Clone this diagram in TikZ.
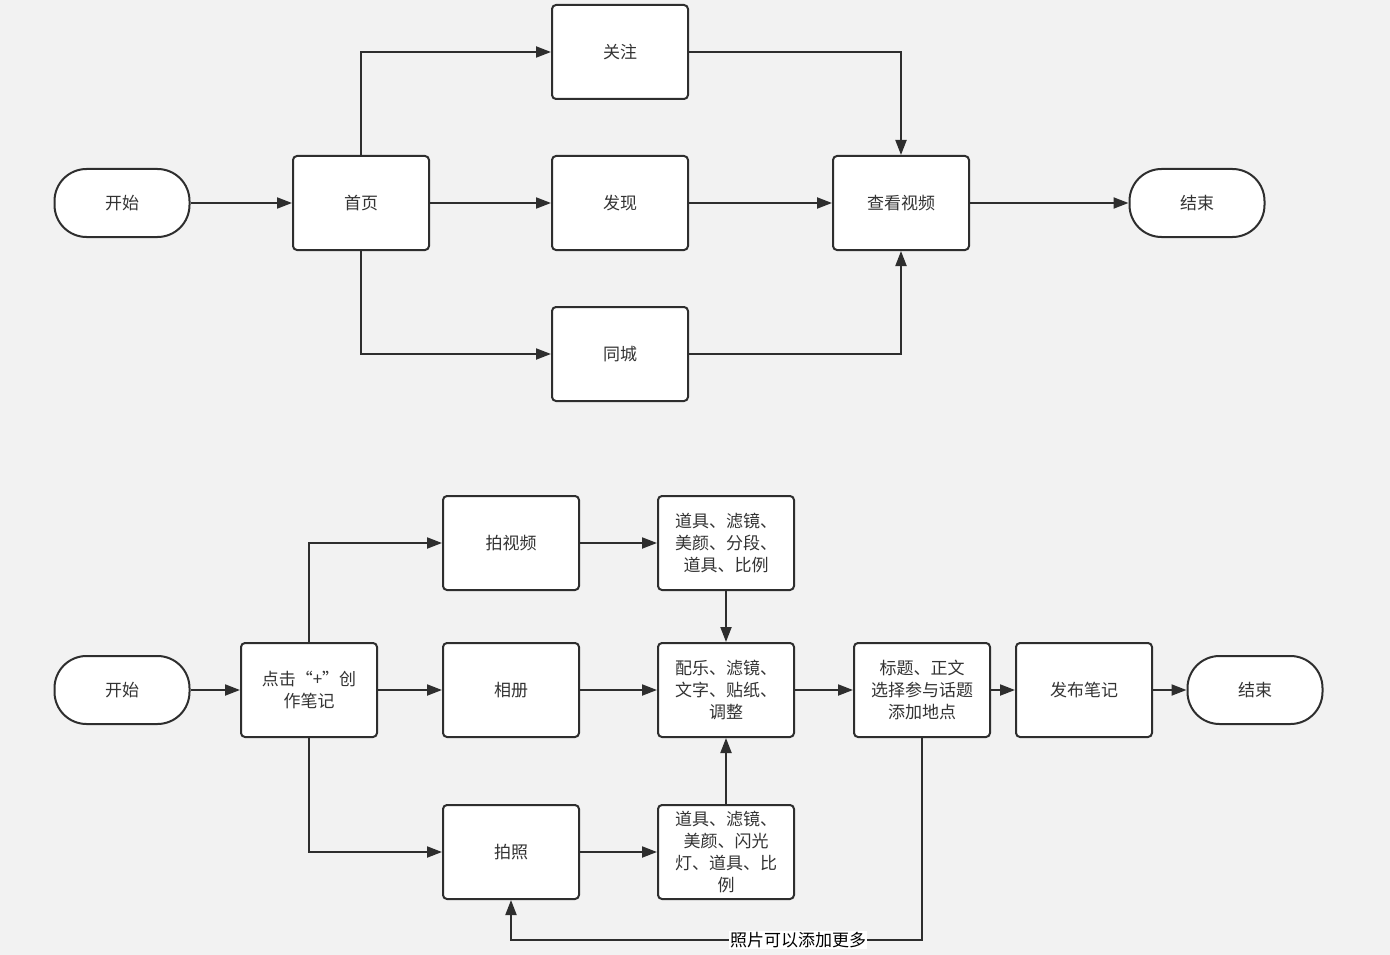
\documentclass[tikz,border=0pt]{standalone}
\usepackage{fontspec}
\newfontfamily\cjk{Noto Sans CJK SC}
\usetikzlibrary{arrows.meta}
\definecolor{bgcol}{HTML}{F2F2F2}
\definecolor{linecol}{HTML}{2E2E2E}
\definecolor{txtcol}{HTML}{333333}

\begin{document}
\begin{tikzpicture}[
    x=1pt, y=-1pt,
    proc/.style={draw=linecol, fill=white, line width=2pt, rounded corners=4pt, minimum width=136pt, minimum height=94pt, align=center, text=txtcol, font=\cjk\fontsize{17}{22}\selectfont, inner sep=0pt},
    term/.style={draw=linecol, fill=white, line width=2pt, rounded corners=32pt, minimum width=135pt, minimum height=68pt, text=txtcol, font=\cjk\fontsize{17}{22}\selectfont, inner sep=0pt},
    link/.style={draw=linecol, line width=2pt, -{Triangle[length=15pt,width=11pt]}}
]
\fill[bgcol] (0,0) rectangle (1390,955);
\useasboundingbox (0,0) rectangle (1390,955);

% top flow
\node (start1) at (122,203) [term] {开始};
\node (home) at (361,203) [proc] {首页};
\node (follow) at (620,52) [proc] {关注};
\node (discover) at (620,203) [proc] {发现};
\node (local) at (620,354) [proc] {同城};
\node (watch) at (901,203) [proc] {查看视频};
\node (end1) at (1197,203) [term] {结束};

\draw[link] (start1) -- (home);
\draw[link] (home) -- (discover);
\draw[link] (discover) -- (watch);
\draw[link] (watch) -- (end1);
\draw[link] (home.north) |- (follow.west);
\draw[link] (home.south) |- (local.west);
\draw[link] (follow.east) -| (watch.north);
\draw[link] (local.east) -| (watch.south);

% bottom flow
\node (start2) at (122,690) [term] {开始};
\node (create) at (309,690) [proc] {点击“+”创\\作笔记};
\node (shoot) at (511,543) [proc] {拍视频};
\node (album) at (511,690) [proc] {相册};
\node (photo) at (511,852) [proc] {拍照};
\node (vidfx) at (726,543) [proc] {道具、滤镜、\\美颜、分段、\\道具、比例};
\node (edit) at (726,690) [proc] {配乐、滤镜、\\文字、贴纸、\\调整};
\node (picfx) at (726,852) [proc] {道具、滤镜、\\美颜、闪光\\灯、道具、比\\例};
\node (title) at (922,690) [proc] {标题、正文\\选择参与话题\\添加地点};
\node (post) at (1084,690) [proc] {发布笔记};
\node (end2) at (1255,690) [term] {结束};
\coordinate (loopR) at (922,940);
\coordinate (loopL) at (511,940);

\draw[link] (start2) -- (create);
\draw[link] (create) -- (album);
\draw[link] (create.north) |- (shoot.west);
\draw[link] (create.south) |- (photo.west);
\draw[link] (shoot) -- (vidfx);
\draw[link] (album) -- (edit);
\draw[link] (photo) -- (picfx);
\draw[link] (vidfx) -- (edit);
\draw[link] (picfx) -- (edit);
\draw[link] (edit) -- (title);
\draw[link] (title) -- (post);
\draw[link] (post) -- (end2);
\draw[link] (title.south) -- (loopR) -- (loopL) -- (photo.south);
\node (more) at (798,940) [fill=white, inner sep=1pt, text=black, font=\cjk\fontsize{17}{20}\selectfont] {照片可以添加更多};
\end{tikzpicture}
\end{document}
